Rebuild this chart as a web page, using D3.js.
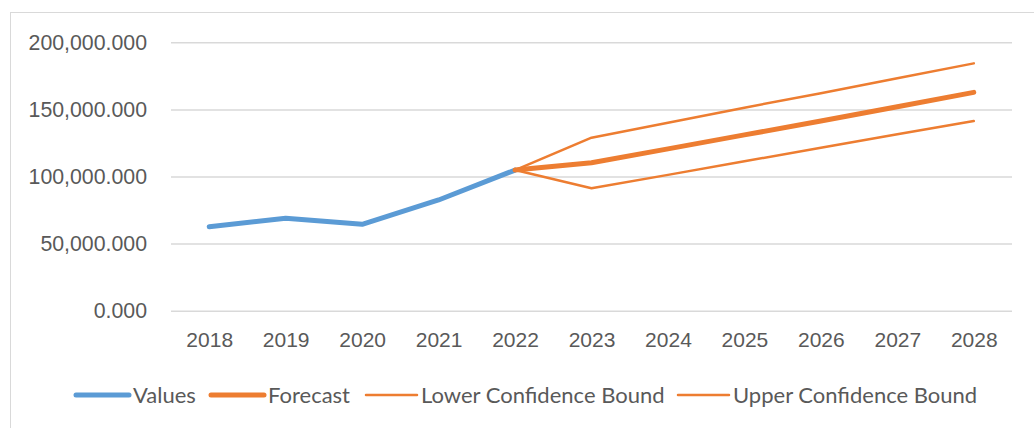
<!DOCTYPE html>
<html>
<head>
<meta charset="utf-8">
<script src="https://cdn.jsdelivr.net/npm/d3@7"></script>
<style>
  body { margin: 0; background: #fff; }
  svg { display: block; font-family: Lato, "Open Sans", sans-serif; }
</style>
</head>
<body>
<div id="vis"></div>
<script>
const years = ["2018", "2019", "2020", "2021", "2022", "2023", "2024", "2025", "2026", "2027", "2028"];
const actualValues = [62600, 68850, 64400, 82500, 104800];
const forecastYears = ["2022", "2023", "2024", "2025", "2026", "2027", "2028"];
const forecast = [104800, 110300, 120600, 131000, 141350, 152000, 162700];
const lowerBound = [104800, 91200, 101200, 111300, 121450, 131500, 141350];
const upperBound = [104800, 128900, 140100, 151300, 162100, 173250, 184300];
const yTicks = [0, 50000, 100000, 150000, 200000];

const W = 1034, H = 428;
const plot = { left: 171, right: 1012, top: 42.3, bottom: 310.7 };
const blue = "#5B9BD5", orange = "#ED7D31", textColor = "#595959", grid = "#D9D9D9";

const svg = d3.select("#vis").append("svg").attr("width", W).attr("height", H);

// chart border (only top/left are inside the window)
svg.append("rect")
  .attr("x", 10.5).attr("y", 12.5)
  .attr("width", 1200).attr("height", 600)
  .attr("fill", "none").attr("stroke", grid);

const xScale = d3.scalePoint().domain(years).range([plot.left, plot.right]).padding(0.5);
const yScale = d3.scaleLinear().domain([0, 200000]).range([plot.bottom, plot.top]);

// gridlines + y labels
const yAxis = d3.axisLeft(yScale)
  .tickValues(yTicks)
  .tickFormat(d3.format(",.3f"))
  .tickSize(-(plot.right - plot.left))
  .tickPadding(24);
svg.append("g")
  .attr("transform", `translate(${plot.left},0)`)
  .call(yAxis)
  .call((g) => g.select(".domain").remove())
  .call((g) => g.selectAll("line").attr("stroke", grid).attr("stroke-width", 1.5))
  .call((g) => g.selectAll("text").attr("fill", textColor).style("font-size", "21.3px"));

// x labels
const xAxis = d3.axisBottom(xScale).tickSize(0).tickPadding(21);
svg.append("g")
  .attr("transform", `translate(0,${plot.bottom})`)
  .call(xAxis)
  .call((g) => g.select(".domain").remove())
  .call((g) => g.selectAll("text").attr("fill", textColor).style("font-size", "21px"));

const line = (xs) => d3.line().x((d, i) => xScale(xs[i])).y((d) => yScale(d));

function drawLine(vals, xs, color, w) {
  svg.append("path")
    .datum(vals)
    .attr("fill", "none")
    .attr("stroke", color)
    .attr("stroke-width", w)
    .attr("stroke-linejoin", "round")
    .attr("stroke-linecap", "round")
    .attr("d", line(xs));
}

drawLine(actualValues, years, blue, 5);
drawLine(lowerBound, forecastYears, orange, 2.5);
drawLine(upperBound, forecastYears, orange, 2.5);
drawLine(forecast, forecastYears, orange, 5);

// legend
const legend = [
  { name: "Values", color: blue, w: 5, x: 76, len: 53 },
  { name: "Forecast", color: orange, w: 5, x: 211, len: 53 },
  { name: "Lower Confidence Bound", color: orange, w: 2.5, x: 366, len: 51 },
  { name: "Upper Confidence Bound", color: orange, w: 2.5, x: 678, len: 51 },
];
const lg = svg.append("g").attr("transform", "translate(0,395)");
legend.forEach((d) => {
  lg.append("line")
    .attr("x1", d.x).attr("x2", d.x + d.len)
    .attr("y1", 0).attr("y2", 0)
    .attr("stroke", d.color).attr("stroke-width", d.w)
    .attr("stroke-linecap", "round");
  lg.append("text")
    .attr("x", d.x + d.len + 4)
    .attr("y", 0)
    .attr("dy", "0.35em")
    .attr("fill", textColor)
    .style("font-size", "22px")
    .text(d.name);
});
</script>
</body>
</html>
